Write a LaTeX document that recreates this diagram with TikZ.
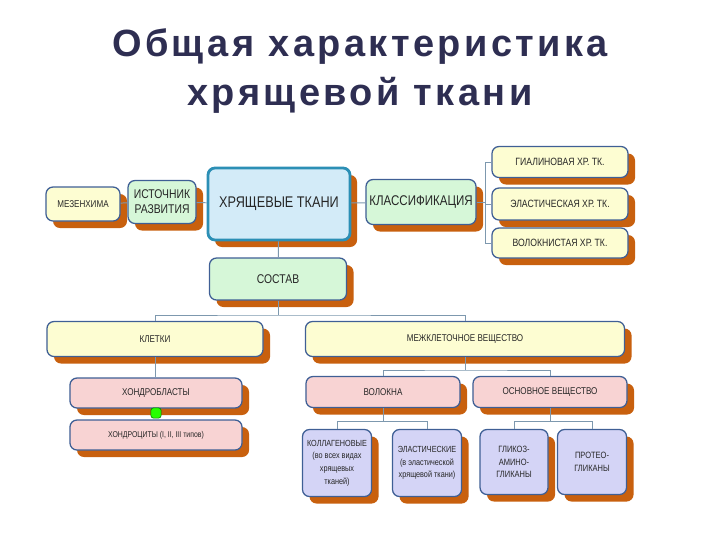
\documentclass[tikz,border=0pt]{standalone}
\usepackage{fontspec}
\setmainfont{Liberation Sans}
\newfontfamily\boxfont[FakeStretch=0.82]{Liberation Sans}
\newfontfamily\titlefont[LetterSpace=9]{Liberation Sans}
\usetikzlibrary{shadows}
\definecolor{edgec}{HTML}{3F5F95}
\definecolor{shadc}{HTML}{C8600E}
\definecolor{linkc}{HTML}{7D98AE}
\definecolor{yelc}{HTML}{FDFDD2}
\definecolor{grnc}{HTML}{D6F7D8}
\definecolor{bluc}{HTML}{D3EBF8}
\definecolor{pnkc}{HTML}{F8D3D3}
\definecolor{lilc}{HTML}{D4D4F6}
\definecolor{titc}{HTML}{2E2E52}
\tikzset{box/.style={draw=edgec,line width=0.9pt,rounded corners=5pt,align=center,
  inner sep=1pt,text=black!85,
  drop shadow={shadow xshift=5pt,shadow yshift=-5pt,fill=shadc,opacity=1},
  font=\boxfont\fontsize{7}{8.5}\selectfont}}
\tikzset{sz/.style 2 args={minimum width=#1*.25mm,minimum height=#2*.25mm}}
\tikzset{yelbox/.style={box,fill=yelc}}
\tikzset{grnbox/.style={box,fill=grnc}}
\tikzset{blubox/.style={box,fill=bluc,draw=edgec!70!cyan,line width=2pt}}
\tikzset{pnkbox/.style={box,fill=pnkc}}
\tikzset{lilbox/.style={box,fill=lilc}}
\tikzset{link/.style={draw=linkc,line width=0.7pt}}

\begin{document}
\begin{tikzpicture}[x=0.025cm,y=-0.025cm]
  \useasboundingbox (0,0) rectangle (720,540);
  % title
  \node[text=titc,font=\titlefont\bfseries\fontsize{27}{32}\selectfont] (t1) at (360,47) {Общая характеристика};
  \node[text=titc,font=\titlefont\bfseries\fontsize{27}{32}\selectfont] (t2) at (360,95) {хрящевой ткани};

  % top row
  \node[yelbox,sz={74}{34}] (mez) at (83,204) {МЕЗЕНХИМА};
  \node[grnbox,sz={68}{43},font=\boxfont\fontsize{9}{10.5}\selectfont] (ist) at (162,202) {ИСТОЧНИК\\РАЗВИТИЯ};
  \node[blubox,sz={142}{72},font=\boxfont\fontsize{11}{13}\selectfont] (hr) at (279,204) {ХРЯЩЕВЫЕ ТКАНИ};
  \node[grnbox,sz={110}{45},font=\boxfont\fontsize{10}{12}\selectfont] (kl) at (421,202) {КЛАССИФИКАЦИЯ};
  \node[yelbox,sz={136}{31},font=\boxfont\fontsize{7.5}{9}\selectfont] (g1) at (560,162) {ГИАЛИНОВАЯ ХР. ТК.};
  \node[yelbox,sz={136}{32},font=\boxfont\fontsize{7.5}{9}\selectfont] (g2) at (560,204) {ЭЛАСТИЧЕСКАЯ ХР. ТК.};
  \node[yelbox,sz={136}{30},font=\boxfont\fontsize{7.5}{9}\selectfont] (g3) at (560,243) {ВОЛОКНИСТАЯ ХР. ТК.};

  % composition
  \node[grnbox,sz={137}{42},font=\boxfont\fontsize{9}{10}\selectfont] (sos) at (278,279) {СОСТАВ};
  \node[yelbox,sz={216}{35}] (kle) at (155,339) {КЛЕТКИ};
  \node[yelbox,sz={319}{35}] (mezh) at (465,339) {МЕЖКЛЕТОЧНОЕ ВЕЩЕСТВО};
  \node[pnkbox,sz={172}{30}] (hb) at (156,393) {ХОНДРОБЛАСТЫ};
  \node[pnkbox,sz={172}{30},font=\boxfont\fontsize{6}{7}\selectfont] (hc) at (156,435) {ХОНДРОЦИТЫ (I, II, III типов)};
  \node[draw=green!45!black,fill=green!80!lime,rounded corners=2pt,minimum size=2.6mm,inner sep=0pt] (gm) at (156,413) {};
  \node[pnkbox,sz={154}{31}] (vol) at (383,392) {ВОЛОКНА};
  \node[pnkbox,sz={154}{31}] (osn) at (550,392) {ОСНОВНОЕ ВЕЩЕСТВО};
  \node[lilbox,sz={69}{67},font=\boxfont\fontsize{6.3}{9}\selectfont] (kol) at (337,463) {КОЛЛАГЕНОВЫЕ\\(во всех видах\\хрящевых\\тканей)};
  \node[lilbox,sz={69}{67},font=\boxfont\fontsize{6.3}{9}\selectfont] (ela) at (427,463) {ЭЛАСТИЧЕСКИЕ\\(в эластической\\хрящевой ткани)};
  \node[lilbox,sz={68}{65},font=\boxfont\fontsize{6.5}{9}\selectfont] (gli) at (514,462) {ГЛИКОЗ-\\АМИНО-\\ГЛИКАНЫ};
  \node[lilbox,sz={69}{65},font=\boxfont\fontsize{6.5}{9}\selectfont] (pro) at (592,462) {ПРОТЕО-\\ГЛИКАНЫ};

  % connectors
  \coordinate (kb) at (485,202);
  \coordinate (sb) at (278,315);
  \coordinate (mb) at (465,370);
  \coordinate (vb) at (383,421);
  \coordinate (ob) at (550,421);
  \draw[link] (mez) -- (ist);
  \draw[link] (ist) -- (hr);
  \draw[link] (hr) -- (kl);
  \draw[link] (kl) -- (kb) (g1.west) -| (kb) |- (g3.west) (kb) |- (g2.west);
  \draw[link] (hr) -- (sos);
  \draw[link] (sos) -- (sb) (kle.north) |- (sb) -| (mezh.north);
  \draw[link] (kle.south) -- (kle.south |- hb.north);
  \draw[link] (mezh) -- (mb) (vol.north) |- (mb) -| (osn.north);
  \draw[link] (vol) -- (vb) (kol.north) |- (vb) -| (ela.north);
  \draw[link] (osn) -- (ob) (gli.north) |- (ob) -| (pro.north);
\end{tikzpicture}
\end{document}
